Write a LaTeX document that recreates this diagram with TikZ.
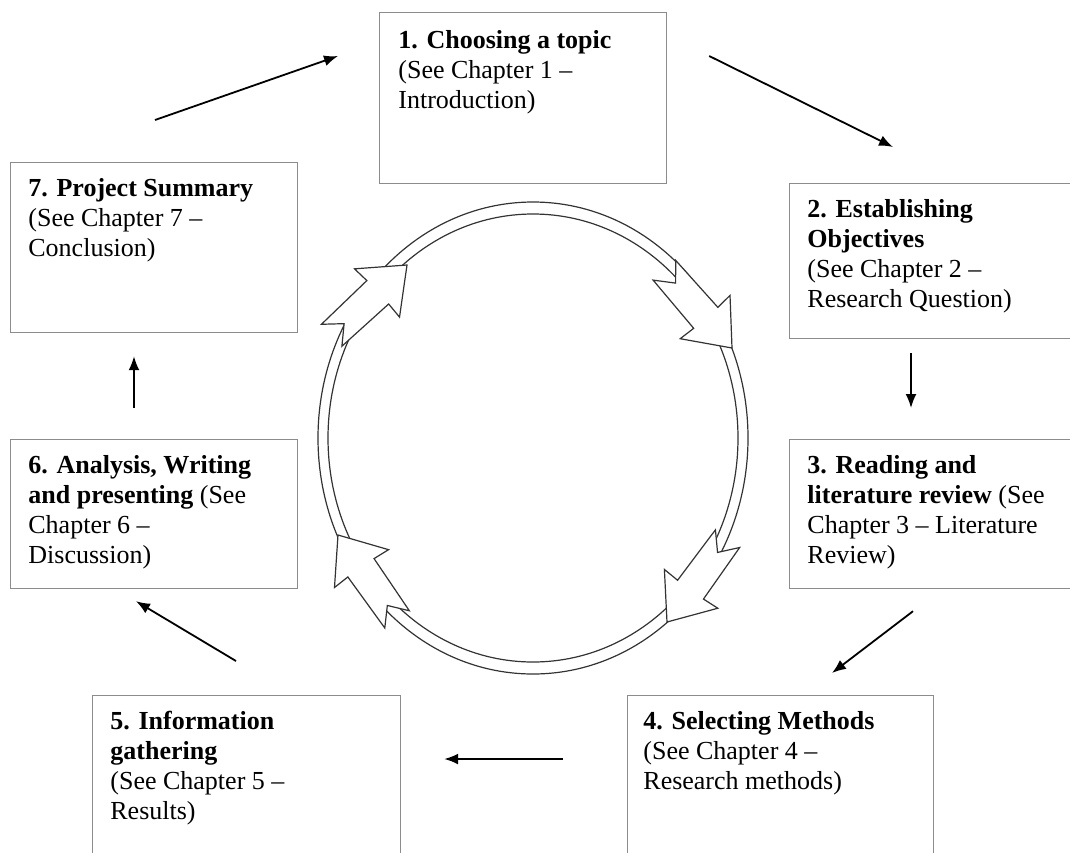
\documentclass[tikz,border=0pt]{standalone}
\usepackage{fontspec}
\setmainfont{Liberation Serif}
\usetikzlibrary{calc,positioning,arrows.meta}

\tikzset{
  stagebox/.style={draw=black!45, line width=0.6pt, minimum width=143.5pt, inner sep=0pt, anchor=north west},
  stagetext/.style={align=left, inner sep=0pt, anchor=north west, font=\fontsize{13}{15}\selectfont},
  flow/.style={-{Latex[length=7pt,width=5.5pt]}, line width=0.9pt},
  ringline/.style={draw=black!80, line width=0.6pt},
  ringarrow/.pic={
    \draw[ringline, fill=white] (0,0) -- (-41,33) -- (-40,16) -- (-103,15) -- (-86,0)
      -- (-103,-15) -- (-40,-16) -- (-41,-33) -- cycle;
  }
}

\begin{document}
\begin{tikzpicture}[x=0.5pt,y=-0.5pt]
  \useasboundingbox (0,0) rectangle (1070,852);
  \clip (0,0) rectangle (1070,852);

  % Stage 1
  \node[stagebox, minimum height=85.5pt] (b1) at (379,12) {};
  \node[stagetext] (t1) at ($(b1.north west)+(19,18)$) {\textbf{1. Choosing a topic}\\(See Chapter 1 –\\Introduction)};

  % Stage 2
  \node[stagebox, minimum height=77.5pt] (b2) at (789,183) {};
  \node[stagetext] (t2) at ($(b2.north west)+(18,16)$) {\textbf{2. Establishing}\\\textbf{Objectives}\\(See Chapter 2 –\\Research Question)};

  % Stage 3
  \node[stagebox, minimum height=74.5pt] (b3) at (789,439) {};
  \node[stagetext] (t3) at ($(b3.north west)+(18,16)$) {\textbf{3. Reading and}\\\textbf{literature review} (See\\Chapter 3 – Literature\\Review)};

  % Stage 4
  \node[stagebox, minimum width=153pt, minimum height=90pt] (b4) at (627,695) {};
  \node[stagetext] (t4) at ($(b4.north west)+(16,16)$) {\textbf{4. Selecting Methods}\\(See Chapter 4 –\\Research methods)};

  % Stage 5
  \node[stagebox, minimum width=154pt, minimum height=90pt] (b5) at (92,695) {};
  \node[stagetext] (t5) at ($(b5.north west)+(18,16)$) {\textbf{5. Information}\\\textbf{gathering}\\(See Chapter 5 –\\Results)};

  % Stage 6
  \node[stagebox, minimum height=74.5pt] (b6) at (10,439) {};
  \node[stagetext] (t6) at ($(b6.north west)+(18,16)$) {\textbf{6. Analysis, Writing}\\\textbf{and presenting} (See\\Chapter 6 –\\Discussion)};

  % Stage 7
  \node[stagebox, minimum height=85pt] (b7) at (10,162) {};
  \node[stagetext] (t7) at ($(b7.north west)+(18,16)$) {\textbf{7. Project Summary}\\(See Chapter 7 –\\Conclusion)};

  % Flow between the stages
  \draw[flow] ($(b7.north west)+(145,-42)$) -- ($(b1.north west)+(-41,44)$);
  \draw[flow] ($(b1.north east)+(42,44)$) -- ($(b2.north west)+(104,-36)$);
  \draw[flow] ($(b2.south west)+(122,14)$) -- ($(b3.north west)+(122,-31)$);
  \draw[flow] ($(b3.south west)+(124,22)$) -- ($(b4.north west)+(205,-22)$);
  \draw[flow] ($(b4.north west)+(-64,64)$) -- ($(b5.north east)+(43,64)$);
  \draw[flow] ($(b5.north west)+(144,-34)$) -- ($(b6.south west)+(126,12)$);
  \draw[flow] ($(b6.north west)+(124,-31)$) -- ($(b7.south west)+(124,23)$);

  % Cycle in the middle
  \coordinate (ring) at (533,438);
  \draw[ringline] (ring) ellipse [x radius=215, y radius=236];
  \draw[ringline] (ring) ellipse [x radius=205, y radius=224];
  \pic[rotate=43] at (407,265) {ringarrow};
  \pic[rotate=-49] at (732,348) {ringarrow};
  \pic[rotate=-126] at (667,622) {ringarrow};
  \pic[rotate=125] at (338,535) {ringarrow};

\end{tikzpicture}
\end{document}
